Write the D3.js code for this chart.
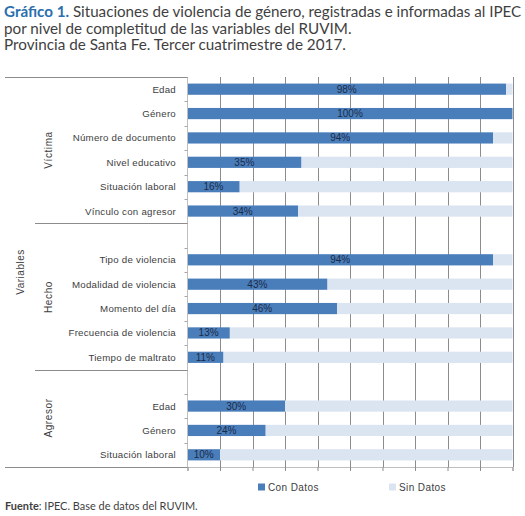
<!DOCTYPE html>
<html>
<head>
<meta charset="utf-8">
<script src="https://cdn.jsdelivr.net/npm/d3@7"></script>
<style>
  html, body { margin: 0; padding: 0; background: #ffffff; }
  svg { display: block; }
</style>
</head>
<body>
<svg id="chart" width="525" height="516"></svg>
<script>
// ---- Data ----
const groups = ["Víctima", "Hecho", "Agresor"];
const categories = [
  "Edad", "Género", "Número de documento", "Nivel educativo", "Situación laboral", "Vínculo con agresor",
  "Tipo de violencia", "Modalidad de violencia", "Momento del día", "Frecuencia de violencia", "Tiempo de maltrato",
  "Edad", "Género", "Situación laboral"
];
const categoryGroup = [
  "Víctima", "Víctima", "Víctima", "Víctima", "Víctima", "Víctima",
  "Hecho", "Hecho", "Hecho", "Hecho", "Hecho",
  "Agresor", "Agresor", "Agresor"
];
const conDatos = [98, 100, 94, 35, 16, 34, 94, 43, 46, 13, 11, 30, 24, 10];
const seriesNames = ["Con Datos", "Sin Datos"];
const xTicks = [0, 10, 20, 30, 40, 50, 60, 70, 80, 90, 100];

// ---- Build slots (Excel multi-level axis: blank leading slot in later groups) ----
const slots = [];
groups.forEach((g, gi) => {
  if (gi > 0) slots.push({ key: g + "-blank", group: g, label: "", blank: true });
  categories.forEach((c, i) => {
    if (categoryGroup[i] === g) slots.push({ key: g + "-" + i, group: g, label: c, con: conDatos[i], sin: 100 - conDatos[i] });
  });
});

const svg = d3.select("#chart");
const pLeft = 187.5, pRight = 512.5, pTop = 77, pBottom = 467;

const x = d3.scaleLinear().domain([0, 100]).range([pLeft, pRight]);
const y = d3.scaleBand().domain(slots.map(d => d.key)).range([pTop, pBottom]).paddingInner(0.54).paddingOuter(0.27);
const step = y.step();

const darkBlue = "#4a7ebb", lightBlue = "#dbe5f1";
const txt = "#404040";

// ---- Title ----
const title = svg.append("g").attr("font-family", "Lato, 'Open Sans', 'Liberation Sans', sans-serif");
const t1 = title.append("text").attr("x", 4).attr("y", 17).attr("font-size", 15).attr("fill", "#3f3f3f");
t1.append("tspan").attr("font-weight", "bold").attr("fill", "#2a6fae").text("Gráfico 1.");
t1.append("tspan").text(" Situaciones de violencia de género, registradas e informadas al IPEC");
const t2 = title.append("text").attr("x", 4).attr("y", 33.5).attr("font-size", 15).attr("fill", "#3f3f3f")
  .text("por nivel de completitud de las variables del RUVIM.");
const t3 = title.append("text").attr("x", 4).attr("y", 50).attr("font-size", 15).attr("fill", "#3f3f3f")
  .text("Provincia de Santa Fe. Tercer cuatrimestre de 2017.");
[[t1, 518], [t2, 348], [t3, 342]].forEach(([t, w]) => {
  const cur = t.node().getComputedTextLength();
  t.attr("font-size", 15 * w / cur);
});

// ---- Gridlines ----
svg.append("g").selectAll("line").data(xTicks.filter(d => d > 0)).join("line")
  .attr("x1", d => Math.round(x(d)) + 0.5).attr("x2", d => Math.round(x(d)) + 0.5)
  .attr("y1", pTop).attr("y2", pBottom)
  .attr("stroke", "#8c8c8c").attr("stroke-width", 1);

// ---- Bars ----
const dataSlots = slots.filter(d => !d.blank);
const barG = svg.append("g");
barG.selectAll("rect.sin").data(dataSlots).join("rect").attr("class", "sin")
  .attr("x", d => x(d.con)).attr("width", d => x(100) - x(d.con))
  .attr("y", d => y(d.key)).attr("height", y.bandwidth()).attr("fill", lightBlue);
barG.selectAll("rect.con").data(dataSlots).join("rect").attr("class", "con")
  .attr("x", x(0)).attr("width", d => x(d.con) - x(0))
  .attr("y", d => y(d.key)).attr("height", y.bandwidth()).attr("fill", darkBlue);
barG.selectAll("text").data(dataSlots).join("text")
  .attr("x", d => (x(0) + x(d.con)) / 2).attr("y", d => y(d.key) + y.bandwidth() / 2 + 3.5)
  .attr("text-anchor", "middle").attr("font-family", "'Liberation Sans', Arial, sans-serif")
  .attr("font-size", 10).attr("fill", "#1a2b48").text(d => d.con + "%");

// ---- Bottom axis (ticks only) ----
const xAxis = svg.append("g").attr("transform", `translate(0,${pBottom})`)
  .call(d3.axisBottom(x).tickValues(xTicks).tickSize(4).tickFormat(""));
xAxis.select(".domain").attr("stroke", "#bfbfbf");
xAxis.selectAll(".tick line").attr("stroke", "#8c8c8c");

// ---- Vertical axis ----
svg.append("line").attr("x1", pLeft).attr("x2", pLeft).attr("y1", pTop).attr("y2", pBottom)
  .attr("stroke", "#bfbfbf");
const bounds = d3.range(slots.length + 1).map(i => pTop + i * step);
svg.append("g").selectAll("line").data(bounds).join("line")
  .attr("x1", pLeft - 3).attr("x2", pLeft).attr("y1", d => Math.round(d) + 0.5).attr("y2", d => Math.round(d) + 0.5)
  .attr("stroke", "#a6a6a6");

// ---- Category labels ----
svg.append("g").selectAll("text").data(dataSlots).join("text")
  .attr("x", 176).attr("y", d => y(d.key) + y.bandwidth() / 2 + 3.5)
  .attr("text-anchor", "end").attr("font-family", "'Liberation Sans', Arial, sans-serif")
  .attr("font-size", 9.7).attr("fill", txt).attr("letter-spacing", 0.25).text(d => d.label);

// ---- Group separators and labels ----
const groupInfo = groups.map(g => {
  const s = slots.filter(d => d.group === g);
  return { g, y0: pTop + slots.indexOf(s[0]) * step, y1: pTop + (slots.indexOf(s[s.length - 1]) + 1) * step };
});
const sepG = svg.append("g").attr("stroke", "#8c8c8c");
sepG.append("line").attr("x1", 5).attr("x2", pLeft).attr("y1", pTop + 0.5).attr("y2", pTop + 0.5);
sepG.append("line").attr("x1", 5).attr("x2", pLeft).attr("y1", pBottom + 0.5).attr("y2", pBottom + 0.5);
groupInfo.slice(1).forEach(gi => {
  sepG.append("line").attr("x1", 35).attr("x2", pLeft).attr("y1", Math.round(gi.y0) + 0.5).attr("y2", Math.round(gi.y0) + 0.5);
});
const groupCenters = { "Víctima": 150, "Hecho": 297, "Agresor": 418 };
svg.append("g").selectAll("text").data(groupInfo).join("text")
  .attr("transform", d => `translate(52,${groupCenters[d.g]}) rotate(-90)`)
  .attr("text-anchor", "middle").attr("font-family", "'Liberation Sans', Arial, sans-serif")
  .attr("font-size", 10).attr("letter-spacing", 0.6).attr("fill", txt).text(d => d.g);
svg.append("text").attr("transform", `translate(24,272) rotate(-90)`)
  .attr("text-anchor", "middle").attr("font-family", "'Liberation Sans', Arial, sans-serif")
  .attr("font-size", 10).attr("letter-spacing", 0.5).attr("fill", txt).text("Variables");

// ---- Legend ----
const legendX = [258, 389];
const legend = svg.append("g").selectAll("g").data(seriesNames).join("g")
  .attr("transform", (d, i) => `translate(${legendX[i]},487)`);
legend.append("rect").attr("x", 0).attr("y", -3.5).attr("width", 7).attr("height", 7)
  .attr("fill", (d, i) => i === 0 ? darkBlue : lightBlue);
legend.append("text").attr("x", 10).attr("y", 3.5).attr("font-family", "'Liberation Sans', Arial, sans-serif")
  .attr("font-size", 10).attr("letter-spacing", 0.4).attr("fill", txt).text(d => d);

// ---- Footer ----
const f = svg.append("text").attr("x", 5).attr("y", 510).attr("font-family", "Lato, 'Open Sans', 'Liberation Sans', sans-serif")
  .attr("font-size", 10.5).attr("fill", "#3f3f3f");
f.append("tspan").attr("font-weight", "bold").text("Fuente");
f.append("tspan").text(": IPEC. Base de datos del RUVIM.");
const fw = f.node().getComputedTextLength();
f.attr("font-size", 10.5 * 193 / fw);
</script>
</body>
</html>
